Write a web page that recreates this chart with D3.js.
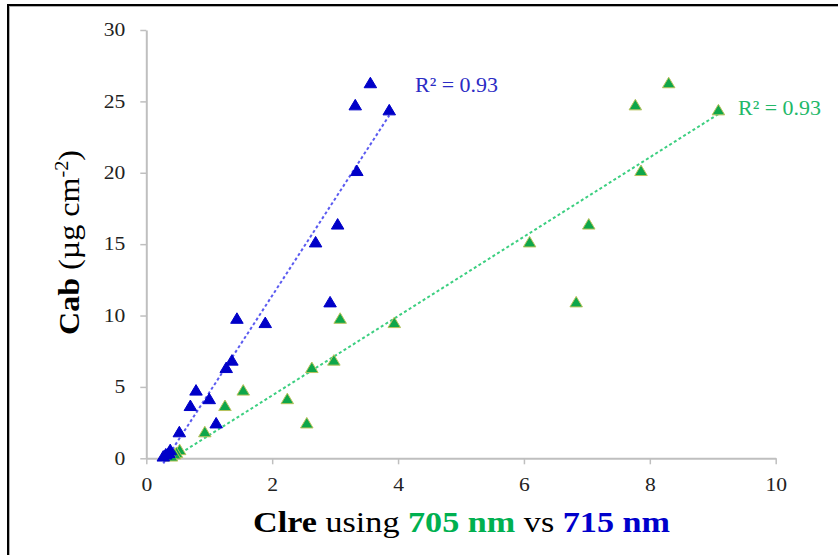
<!DOCTYPE html>
<html>
<head>
<meta charset="utf-8">
<script src="https://cdn.jsdelivr.net/npm/d3@7"></script>
<style>
  html, body { margin: 0; padding: 0; background: #fff; }
  svg { display: block; }
  svg text { font-family: 'Liberation Serif', 'Times New Roman', Times, serif !important; }
</style>
</head>
<body>
<svg id="chart" width="838" height="555"></svg>
<script>
// Chlorophyll content (Cab, µg cm-2) shared by both index series
const cab    = [26.25, 24.7, 24.35, 20.1, 16.35, 15.1, 10.9, 9.75, 9.45, 6.82, 6.3, 4.72, 4.12, 3.64, 2.42, 1.8, 0.55, 0.35, 0.25, 0.1];
// CIre computed with the 705 nm band
const ci705  = [8.30, 7.77, 9.09, 7.86, 7.03, 6.09, 6.83, 3.08, 3.94, 2.98, 2.63, 1.54, 2.24, 1.25, 2.55, 0.93, 0.53, 0.48, 0.45, 0.40];
// CIre computed with the 715 nm band
const ci715  = [3.56, 3.32, 3.86, 3.345, 3.04, 2.69, 2.92, 1.44, 1.89, 1.36, 1.27, 0.79, 1.0, 0.70, 1.11, 0.525, 0.38, 0.36, 0.31, 0.27];
const r2Labels = ["R² = 0.93", "R² = 0.93"];
const xTicks = [0, 2, 4, 6, 8, 10];
const yTicks = [0, 5, 10, 15, 20, 25, 30];

const svg = d3.select("#chart");
const sx = 1.2; // horizontal stretch applied to the text

// outer frame
svg.append("rect").attr("x", 9).attr("y", 6).attr("width", 900).attr("height", 700)
  .attr("fill", "none").attr("stroke", "#b0b0b0").attr("stroke-width", 2);
svg.append("rect").attr("x", 8).attr("y", 5).attr("width", 900).attr("height", 700)
  .attr("fill", "none").attr("stroke", "#000").attr("stroke-width", 2);

const x = d3.scaleLinear().domain([0, 10]).range([146.3, 775.7]);
const y = d3.scaleLinear().domain([0, 30]).range([458.3, 30]);

const axisColor = "#bfbfbf";

// x axis
const gx = svg.append("g").attr("transform", `translate(0,${y(0)})`)
  .call(d3.axisBottom(x).tickValues(xTicks).tickSize(6).tickSizeOuter(0).tickFormat(d3.format("d")));
// y axis
const gy = svg.append("g").attr("transform", `translate(${x(0)},0)`)
  .call(d3.axisLeft(y).tickValues(yTicks).tickSize(6).tickSizeOuter(0).tickFormat(d3.format("d")));

[gx, gy].forEach(g => {
  g.attr("font-family", null);
  g.select(".domain").attr("stroke", axisColor).attr("stroke-width", 2);
  g.selectAll(".tick line").attr("stroke", axisColor).attr("stroke-width", 1.5);
  g.selectAll(".tick text").attr("fill", "#222").attr("font-size", 18);
});
gx.selectAll(".tick text").attr("y", 20).attr("dy", "0.71em").attr("transform", `scale(${sx},1)`);
gy.selectAll(".tick text").attr("x", -17.5).attr("dy", "0.32em").attr("transform", `scale(${sx},1)`);

// least-squares trend line
function fit(xs, ys) {
  const mx = d3.mean(xs), my = d3.mean(ys);
  let sxy = 0, sxx = 0;
  xs.forEach((v, i) => { sxy += (v - mx) * (ys[i] - my); sxx += (v - mx) * (v - mx); });
  const m = sxy / sxx;
  return { m, b: my - m * mx };
}

const series = [
  { xs: ci705, fill: "#0ea64a", stroke: "#b8c25c", line: "#3ccf80", label: r2Labels[1], lx: 738, ly: 115, lc: "#22b868" },
  { xs: ci715, fill: "#0000c8", stroke: "#0000c8", line: "#5a5af0", label: r2Labels[0], lx: 415, ly: 92, lc: "#2b2bc4" }
];

const tri = (w, h) => `M0,${-h * 0.6}L${w / 2},${h * 0.4}L${-w / 2},${h * 0.4}Z`;

series.forEach(s => {
  const f = fit(s.xs, cab);
  const [x0, x1] = d3.extent(s.xs);
  svg.append("line")
    .attr("x1", x(x0)).attr("y1", y(f.m * x0 + f.b))
    .attr("x2", x(x1)).attr("y2", y(f.m * x1 + f.b))
    .attr("stroke", s.line).attr("stroke-width", 2).attr("stroke-dasharray", "3,2.5");
});

series.forEach(s => {
  svg.append("g").selectAll("path").data(s.xs).join("path")
    .attr("transform", (d, i) => `translate(${x(d)},${y(cab[i])})`)
    .attr("d", tri(12.5, 10.5))
    .attr("fill", s.fill).attr("stroke", s.stroke).attr("stroke-width", 1);
  svg.append("text").attr("x", s.lx).attr("y", s.ly)
    .attr("font-size", 21).attr("fill", s.lc)
    .attr("textLength", 83).attr("lengthAdjust", "spacingAndGlyphs")
    .text(s.label);
});

// x axis title
const xt = svg.append("text").attr("x", 253).attr("y", 532).attr("font-size", 29)
  .attr("textLength", 417).attr("lengthAdjust", "spacingAndGlyphs").attr("fill", "#000");
xt.append("tspan").attr("font-weight", "bold").text("Clre");
xt.append("tspan").text(" using ");
xt.append("tspan").attr("font-weight", "bold").attr("fill", "#00b050").text("705 nm");
xt.append("tspan").text(" vs ");
xt.append("tspan").attr("font-weight", "bold").attr("fill", "#0000cc").text("715 nm");

// y axis title
const yt = svg.append("text").attr("transform", "translate(79,335) rotate(-90)")
  .attr("font-size", 30).attr("fill", "#000")
  .attr("textLength", 185).attr("lengthAdjust", "spacingAndGlyphs");
yt.append("tspan").attr("font-weight", "bold").text("Cab");
yt.append("tspan").text(" (µg cm");
yt.append("tspan").attr("font-size", 19).attr("dy", -11).text("-2");
yt.append("tspan").attr("dy", 11).text(")");
</script>
</body>
</html>
